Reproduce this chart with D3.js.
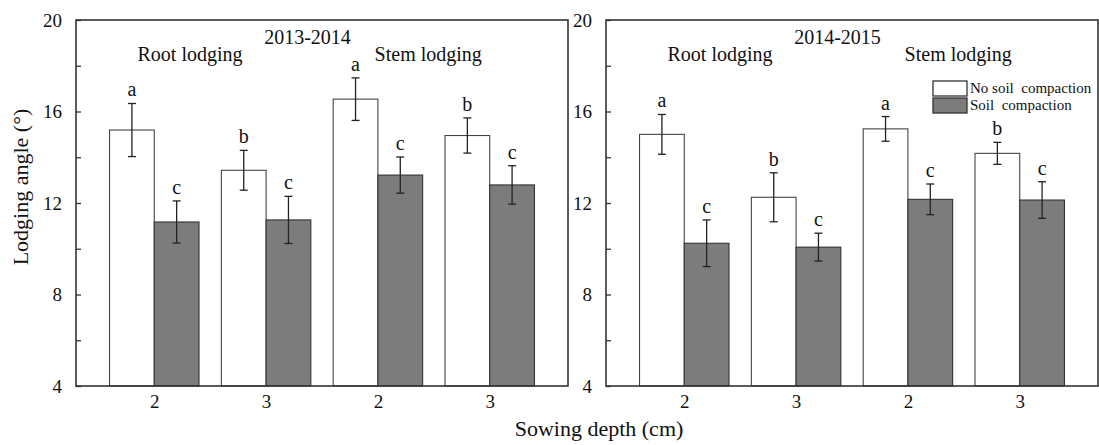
<!DOCTYPE html>
<html>
<head>
<meta charset="utf-8">
<script src="https://cdn.jsdelivr.net/npm/d3@7"></script>
<style>
 body{margin:0;background:#fff;}
</style>
</head>
<body>
<svg id="chart" width="1099" height="445"></svg>
<script>
// ---- data ----
const depths=["2","3","2","3"];
const lodgingTypes=["Root lodging","Stem lodging"];
const seasons=["2013-2014","2014-2015"];
const series=["No soil  compaction","Soil  compaction"];
const yTicks=[4,8,12,16,20];
const yMinor=[6,10,14,18];

const noComp1314=[15.19,13.43,16.54,14.95];
const noCompErr1314=[1.16,0.87,0.93,0.77];
const comp1314=[11.17,11.26,13.22,12.79];
const compErr1314=[0.92,1.03,0.79,0.84];
const noCompLet1314=["a","b","a","b"];
const compLet1314=["c","c","c","c"];

const noComp1415=[15.00,12.25,15.24,14.17];
const noCompErr1415=[0.87,1.07,0.54,0.48];
const comp1415=[10.24,10.07,12.16,12.13];
const compErr1415=[1.02,0.61,0.67,0.80];
const noCompLet1415=["a","b","a","b"];
const compLet1415=["c","c","c","c"];

const panels=[
 {season:seasons[0],left:76,no:noComp1314,noErr:noCompErr1314,noLet:noCompLet1314,c:comp1314,cErr:compErr1314,cLet:compLet1314,legend:false},
 {season:seasons[1],left:606,no:noComp1415,noErr:noCompErr1415,noLet:noCompLet1415,c:comp1415,cErr:compErr1415,cLet:compLet1415,legend:true}
];

const svg=d3.select("#chart");
const FONT="'Liberation Serif','Times New Roman',serif";
const yTop=20,yBot=386,pw=492;
const fills=["#ffffff","#7c7c7c"];
const strokes=["#444","#333"];

const y=d3.scaleLinear().domain([4,20]).range([yBot,yTop]);

const txt=(sel,size)=>sel.style("font-family",FONT).style("font-size",size+"px").attr("fill","#111");

// ================= PANELS =================
panels.forEach(p=>{
 const g=svg.append("g");
 const x=d3.scaleLinear().domain([0.3,4.7]).range([p.left,p.left+pw]);
 const bw=x(0.4)-x(0);

 const rows=[];
 depths.forEach((d,i)=>{
  rows.push({k:i+1,s:0,v:p.no[i],e:p.noErr[i],l:p.noLet[i]});
  rows.push({k:i+1,s:1,v:p.c[i],e:p.cErr[i],l:p.cLet[i]});
 });
 const cx=d=>d.s===0?x(d.k-0.2):x(d.k+0.2);

 g.selectAll("rect.bar").data(rows).enter().append("rect")
  .attr("class","bar")
  .attr("x",d=>cx(d)-bw/2)
  .attr("y",d=>y(d.v))
  .attr("width",bw)
  .attr("height",d=>y(4)-y(d.v))
  .attr("fill",d=>fills[d.s])
  .attr("stroke",d=>strokes[d.s])
  .attr("stroke-width",1.1);

 // error bars
 g.selectAll("line.err").data(rows).enter().append("line")
  .attr("class","err")
  .attr("x1",cx).attr("x2",cx)
  .attr("y1",d=>y(d.v+d.e)).attr("y2",d=>y(d.v-d.e))
  .attr("stroke","#222").attr("stroke-width",1.3);
 [["hi",1],["lo",-1]].forEach(([nm,sg])=>{
  g.selectAll("line.cap-"+nm).data(rows).enter().append("line")
   .attr("class","cap-"+nm)
   .attr("x1",d=>cx(d)-4).attr("x2",d=>cx(d)+4)
   .attr("y1",d=>y(d.v+sg*d.e))
   .attr("y2",d=>y(d.v+sg*d.e))
   .attr("stroke","#222").attr("stroke-width",1.3);
 });

 g.selectAll("text.let").data(rows).enter().append("text")
  .attr("class","let")
  .attr("x",cx).attr("y",d=>y(d.v+d.e)-7)
  .attr("text-anchor","middle")
  .text(d=>d.l)
  .call(txt,20);

 // axes
 const ya=g.append("g").attr("transform",`translate(${p.left},0)`)
  .call(d3.axisLeft(y).tickValues(yTicks).tickSize(-5).tickPadding(14));
 ya.selectAll("text").call(txt,19);
 g.append("g").attr("transform",`translate(${p.left},0)`)
  .call(d3.axisLeft(y).tickValues(yMinor).tickSize(-5).tickFormat(""));

 const xa=g.append("g").attr("transform",`translate(0,${yBot})`)
  .call(d3.axisBottom(x).tickValues([1,2,3,4]).tickSize(0).tickPadding(9).tickFormat(k=>depths[k-1]));
 xa.selectAll("text").call(txt,19);

 g.selectAll(".domain").remove();
 g.selectAll(".tick line").attr("stroke","#333").attr("stroke-width",1.3);

 g.append("rect")
  .attr("x",p.left).attr("y",yTop).attr("width",pw).attr("height",yBot-yTop)
  .attr("fill","none").attr("stroke","#333").attr("stroke-width",1.6);

 // labels
 g.append("text").attr("x",x(2.37)).attr("y",44)
  .attr("text-anchor","middle").text(p.season).call(txt,20);
 g.append("text").attr("x",x(1.32)).attr("y",61)
  .attr("text-anchor","middle").text(lodgingTypes[0]).call(txt,20);
 g.append("text").attr("x",x(3.45)).attr("y",61)
  .attr("text-anchor","middle").text(lodgingTypes[1]).call(txt,20);

 if(p.legend){
  const lg=g.append("g").attr("transform","translate(933,81)");
  series.forEach((s,i)=>{
   lg.append("rect").attr("x",0).attr("y",i*17).attr("width",34).attr("height",15)
    .attr("fill",fills[i]).attr("stroke","#333").attr("stroke-width",1.3);
   lg.append("text").attr("x",37).attr("y",i*17+12)
    .style("white-space","pre").text(s).call(txt,15);
  });
 }
});

// shared axis titles
svg.append("text")
 .attr("transform","translate(28,187) rotate(-90)")
 .attr("text-anchor","middle")
 .text("Lodging angle (°)").call(txt,22);
svg.append("text")
 .attr("x",599).attr("y",436)
 .attr("text-anchor","middle")
 .text("Sowing depth (cm)").call(txt,22);
</script>
</body>
</html>
